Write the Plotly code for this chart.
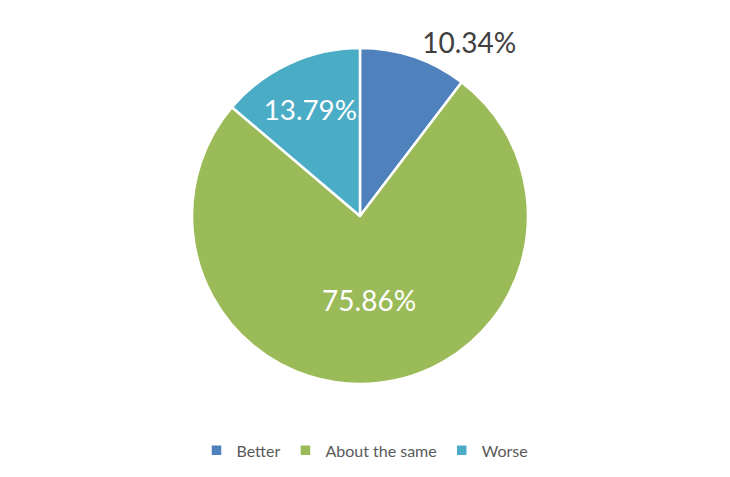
import plotly.graph_objects as go

categories = ["Better", "About the same", "Worse"]
values = [3, 22, 4]
colors = ["#4F81BD", "#9BBB59", "#4BACC6"]
text_positions = ["outside", "inside", "inside"]
text_colors = ["#404040", "#FFFFFF", "#FFFFFF"]

W, H = 730, 477
fig = go.Figure(go.Pie(
    labels=categories,
    values=values,
    sort=False,
    direction="clockwise",
    rotation=0,
    marker=dict(colors=colors, line=dict(color="white", width=2.5)),
    textinfo="percent",
    texttemplate="%{percent:.2%}",
    textposition=text_positions,
    insidetextorientation="horizontal",
    textfont=dict(family="Lato, sans-serif", size=28, color=text_colors),
    outsidetextfont=dict(family="Lato, sans-serif", size=28, color="#404040"),
    domain=dict(x=[192 / W, 528 / W], y=[93 / H, 429 / H]),
    hoverinfo="label+percent",
))
fig.update_layout(
    width=W, height=H,
    margin=dict(l=0, r=0, t=0, b=0),
    paper_bgcolor="white",
    plot_bgcolor="white",
    showlegend=True,
    legend=dict(
        orientation="h",
        x=0.5, xanchor="center",
        y=0.02, yanchor="bottom",
        font=dict(family="Lato, sans-serif", size=16, color="#595959"),
        itemwidth=30,
        traceorder="normal",
    ),
)
fig.write_html(
    "out.html",
    config={"displayModeBar": False},
    post_script="document.body.style.margin='0';",
)
